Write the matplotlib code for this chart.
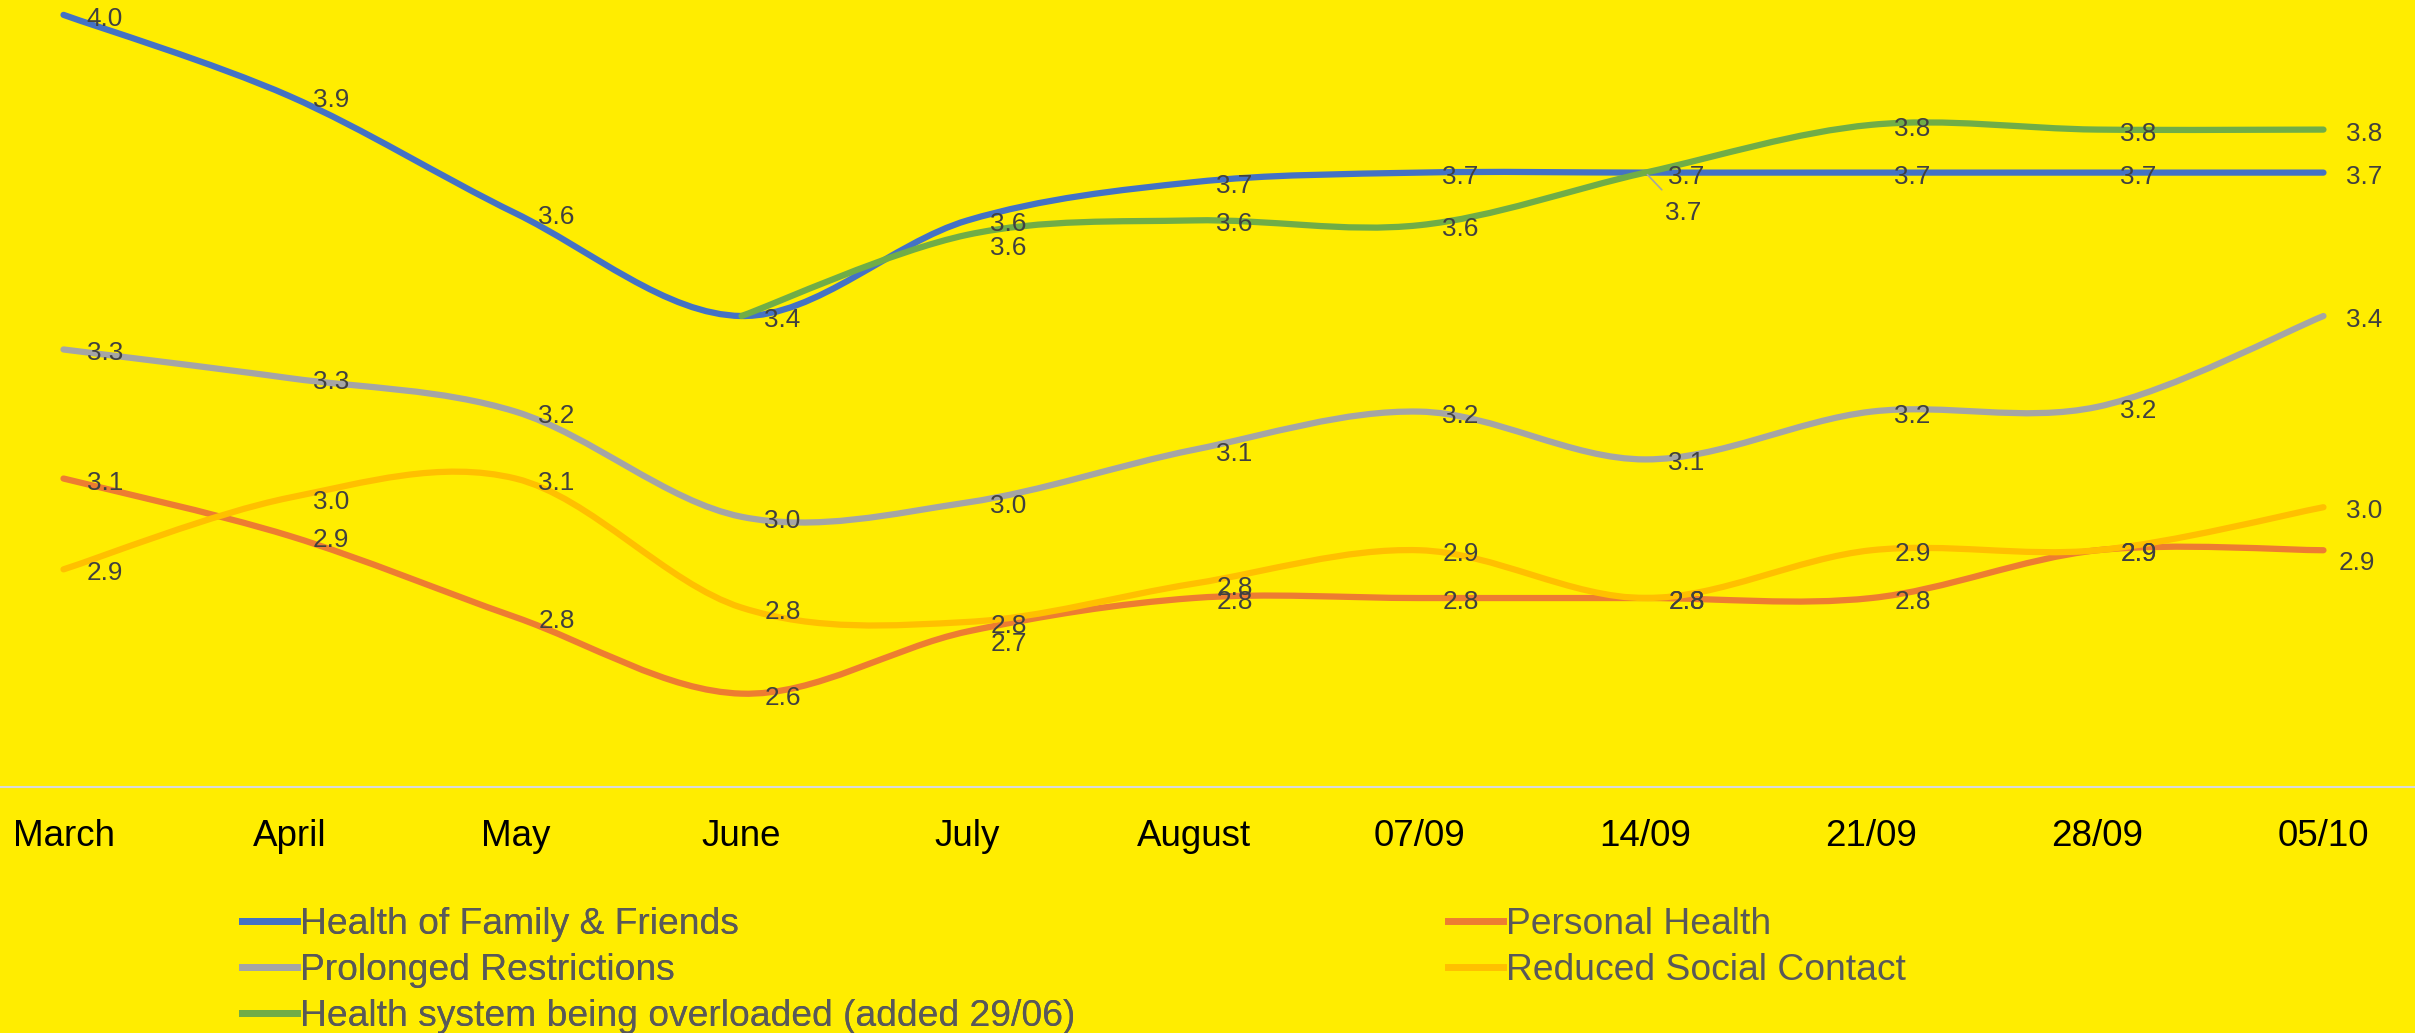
import numpy as np
import matplotlib.pyplot as plt
from matplotlib.path import Path
from matplotlib.patches import PathPatch
from matplotlib.lines import Line2D

plt.rcParams['font.family'] = ['Liberation Sans', 'DejaVu Sans']

# categories
periods = ['March', 'April', 'May', 'June', 'July', 'August',
           '07/09', '14/09', '21/09', '28/09', '05/10']

# series values
family_friends = [4.03, 3.86, 3.615, 3.40, 3.60, 3.68, 3.70, 3.70, 3.70, 3.70, 3.70]
personal_health = [3.06, 2.94, 2.77, 2.61, 2.74, 2.81, 2.81, 2.81, 2.81, 2.91, 2.91]
prolonged = [3.33, 3.27, 3.20, 2.98, 3.01, 3.12, 3.20, 3.10, 3.20, 3.21, 3.40]
social_contact = [2.87, 3.02, 3.06, 2.79, 2.76, 2.84, 2.91, 2.81, 2.91, 2.91, 3.00]
health_system = [None, None, None, 3.40, 3.57, 3.60, 3.59, 3.70, 3.80, 3.79, 3.79]

series = [
    ('Health of Family & Friends', family_friends, '#4472C4'),
    ('Personal Health', personal_health, '#ED7D31'),
    ('Prolonged Restrictions', prolonged, '#A5A5A5'),
    ('Reduced Social Contact', social_contact, '#FFC000'),
    ('Health system being overloaded (added 29/06)', health_system, '#70AD47'),
]

# small nudges for a few data labels (pixels)
label_nudge = {
    ('Health system being overloaded (added 29/06)', 4): (0, -9),
    ('Personal Health', 4): (0, -9),
    ('Personal Health', 10): (-8, -9),
}

BG = '#FFED00'
LW = 4.5


def smooth_path(xs, ys):
    # Bezier path through the points, like Excel's smoothed line
    pts = np.column_stack([xs, ys]).astype(float)
    n = len(pts)
    verts = [pts[0]]
    codes = [Path.MOVETO]
    for i in range(n - 1):
        p0 = pts[max(i - 1, 0)]
        p1 = pts[i]
        p2 = pts[i + 1]
        p3 = pts[min(i + 2, n - 1)]
        c1 = p1 + (p2 - p0) / 6.0
        c2 = p2 - (p3 - p1) / 6.0
        verts += [c1, c2, p2]
        codes += [Path.CURVE4] * 3
    return Path(verts, codes)


fig = plt.figure(figsize=(24.15, 10.33), dpi=100)
fig.patch.set_facecolor(BG)
ax = fig.add_axes([0, 0.2381, 1, 0.7619])
ax.set_facecolor(BG)

x = np.arange(len(periods))
handles = {}
for name, vals, color in series:
    idx = [i for i, v in enumerate(vals) if v is not None]
    xs = x[idx]
    ys = np.array([vals[i] for i in idx])
    patch = PathPatch(smooth_path(xs, ys), facecolor='none', edgecolor=color,
                      lw=LW, capstyle='round', joinstyle='round')
    ax.add_patch(patch)
    handles[name] = Line2D([], [], color=color, lw=5)

    for i in idx:
        if name.startswith('Health system') and i in (3, 7):
            continue
        dx, dy = label_nudge.get((name, i), (0, 0))
        ax.annotate(f'{vals[i]:.1f}', (x[i], vals[i]), xytext=(23 + dx, dy - 4),
                    textcoords='offset pixels', ha='left', va='center',
                    fontsize=18.8, color='#404040', annotation_clip=False)

# label for Health system at 14/09 sits below, with a leader line
ax.annotate(f'{health_system[7]:.1f}', (x[7], health_system[7]), xytext=(38, -40),
            textcoords='offset pixels', ha='center', va='center',
            fontsize=18.8, color='#404040',
            arrowprops=dict(arrowstyle='-', color='#A5A5A5', lw=1.2,
                            shrinkA=8, shrinkB=2))

ax.set_xlim(-0.281, 10.405)
ax.set_ylim(2.4146, 4.0611)
ax.set_xticks(x)
ax.set_xticklabels(periods, fontsize=26.5, color='black')
ax.tick_params(axis='x', length=0, pad=23)
ax.set_yticks([])
for side in ['top', 'left', 'right']:
    ax.spines[side].set_visible(False)
ax.spines['bottom'].set_color('#D9D9D9')
ax.spines['bottom'].set_linewidth(1.5)

# legend, two columns
col1 = ['Health of Family & Friends', 'Prolonged Restrictions',
        'Health system being overloaded (added 29/06)']
col2 = ['Personal Health', 'Reduced Social Contact']
leg_kw = dict(frameon=False, fontsize=26.8, labelcolor='#595959',
              handlelength=1.49, handletextpad=0.08, labelspacing=0.3,
              borderpad=0, borderaxespad=0, loc='upper left')
leg1 = fig.legend([handles[n] for n in col1], col1,
                  bbox_to_anchor=(242 / 2415, 1 - 907 / 1033), **leg_kw)
fig.add_artist(leg1)
fig.legend([handles[n] for n in col2], col2,
           bbox_to_anchor=(1448 / 2415, 1 - 907 / 1033), **leg_kw)

fig.savefig('out.png', dpi=100, facecolor=BG)
